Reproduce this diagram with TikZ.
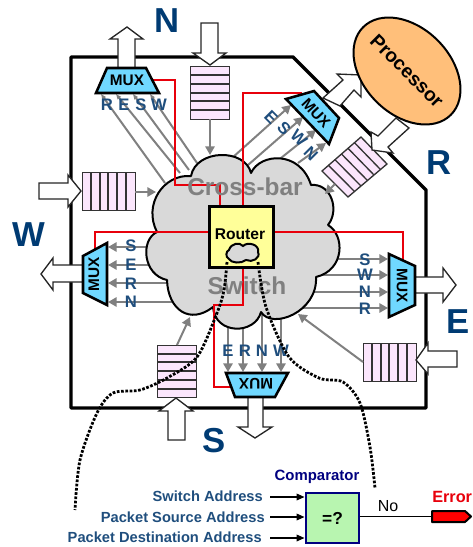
\documentclass[tikz,border=0pt]{standalone}
\usepackage{fontspec}
\setmainfont{Liberation Sans}
\usetikzlibrary{arrows.meta,shapes.geometric,calc}
\definecolor{dblue}{HTML}{003B73}
\definecolor{lblue}{HTML}{1F4E7D}
\definecolor{muxfill}{HTML}{70D8FF}
\definecolor{fifofill}{HTML}{FBE6FC}
\definecolor{gline}{HTML}{808080}
\definecolor{cloudfill}{HTML}{D9D9D9}
\definecolor{procfill}{HTML}{FFBF7A}
\definecolor{routerfill}{HTML}{FFFF99}
\definecolor{compfill}{HTML}{B8F5B0}
\definecolor{navyb}{HTML}{000080}
\definecolor{redl}{HTML}{E8000B}
\tikzset{
  wall/.style={line width=2.6pt,line join=round},
  muxbox/.style={fill=muxfill,draw=black,line width=1.9pt,line join=miter},
  muxtext/.style={font=\bfseries\fontsize{11.5}{12}\selectfont,inner sep=0pt},
  fifobox/.style={fill=fifofill,draw=black!80,line width=1pt},
  bigarrow/.style={fill=white,draw=black!85,line width=1pt,line join=miter},
  redline/.style={draw=redl,line width=1.6pt,line join=miter},
  grayarrow/.style={draw=gline,line width=1.5pt,-{Triangle[length=6.5pt,width=7pt]}},
  graytaper/.style={draw=gline,line width=1.5pt,-{Triangle[length=4pt,width=3pt]}},
  dirlabel/.style={font=\bfseries\fontsize{26}{28}\selectfont,text=dblue,inner sep=0pt},
  portlabel/.style={font=\bfseries\fontsize{12.5}{14}\selectfont,text=lblue,inner sep=0pt},
  faint/.style={font=\bfseries\fontsize{18.3}{20}\selectfont,text=gline,inner sep=0pt},
  addr/.style={font=\bfseries\fontsize{11}{12}\selectfont,text=lblue,inner sep=0pt,anchor=east},
  inarrow/.style={line width=1.1pt,-{Triangle[length=6pt,width=5pt]}},
  dotline/.style={line width=2.1pt,dash pattern=on 2pt off 1.2pt},
}
\newcommand{\garr}[3]{%
  \coordinate (#1-a) at (#2);\coordinate (#1-b) at (#3);
  \draw[grayarrow] (#1-a) -- (#1-b);}
\newcommand{\gtap}[3]{%
  \coordinate (#1-a) at (#2);\coordinate (#1-b) at (#3);
  \draw[graytaper] (#1-a) -- (#1-b);}
\begin{document}
\begin{tikzpicture}[x=.75pt,y=-.75pt]
\useasboundingbox (0,0) rectangle (472,547);
% wall
\draw[wall] (71,57) -- (293,57) -- (426,190) -- (426,408) -- (71,408) -- cycle;

% gray arrows beneath the cloud
\gtap{n1}{165,183}{101,94}
\gtap{n2}{180,173}{116,94}
\gtap{n3}{189,170}{133,94}
\gtap{n4}{197,163}{150,94}
\garr{r1}{232,158}{291,105}
\garr{r2}{248,165}{303,117}
\garr{r3}{281,158}{316,130}
\garr{r4}{298,163}{326,143}
\garr{w1}{160,247}{108,247}
\garr{w2}{160,265}{108,265}
\garr{w3}{175,283}{108,283}
\garr{w4}{180,302}{108,302}
\garr{e1}{325,259}{388,259}
\garr{e2}{320,275}{388,275}
\garr{e3}{310,292}{388,292}
\garr{e4}{300,308}{388,308}
\garr{s1}{228,320}{228,372}
\garr{s2}{243,320}{243,372}
\garr{s3}{262,310}{262,372}
\garr{s4}{281,310}{281,372}

% big cloud
\draw[fill=cloudfill,draw=black,line width=1.5pt,line join=round]
  (157,232) .. controls (143,205) and (163,174) .. (191,176)
  .. controls (196,149) and (245,148) .. (251,173)
  .. controls (260,153) and (300,150) .. (311,185)
  .. controls (331,183) and (340,210) .. (328,225)
  .. controls (345,235) and (345,270) .. (316,277)
  .. controls (318,312) and (272,330) .. (261,312)
  .. controls (255,335) and (215,335) .. (213,307)
  .. controls (190,325) and (168,310) .. (167,280)
  .. controls (143,275) and (140,240) .. (157,232) -- cycle;

% FIFOs and their arrows
\node[fifobox,minimum width=29.25pt,minimum height=39.75pt,inner sep=0,anchor=north west] (fifoN) at (190,66) {};
\foreach \y in {75,84,93,101,110} \draw[black!80,line width=1pt] (190,\y) -- (229,\y);
\node[fifobox,minimum width=39.75pt,minimum height=28.5pt,inner sep=0,anchor=north west] (fifoW) at (82,172) {};
\foreach \x in {91,100,108,117,126} \draw[black!80,line width=1pt] (\x,172) -- (\x,210);
\node[fifobox,minimum width=29.25pt,minimum height=39pt,inner sep=0,anchor=north west] (fifoS) at (157,345) {};
\foreach \y in {354,362,371,380,389} \draw[black!80,line width=1pt] (157,\y) -- (196,\y);
\node[fifobox,minimum width=39.75pt,minimum height=28.5pt,inner sep=0,anchor=north west] (fifoE) at (363,343) {};
\foreach \x in {372,381,389,398,407} \draw[black!80,line width=1pt] (\x,343) -- (\x,381);
\draw[fifobox] (361,137) coordinate (fr1) -- (387,164) coordinate (fr2) -- (348,197) coordinate (fr3) -- (322,171) coordinate (fr4) -- cycle;
\foreach \t in {.167,.333,.5,.667,.833}
  \draw[black!80,line width=1pt] ($(fr1)!\t!(fr4)$) -- ($(fr2)!\t!(fr3)$);
\garr{fn}{210,119}{210,155}
\garr{fw}{135,192}{156,192}
\garr{fs}{177,345}{190,317}
\garr{fe}{363,362}{298,314}
\garr{fr}{335,184}{325,194}

% red wires
\draw[redline] (153,80) -- (175,80) -- (175,185) -- (220,185) -- (220,205);
\draw[redline] (243,205) -- (243,93) -- (302,93);
\draw[redline] (208,232) -- (95,232) -- (95,252);
\draw[redline] (272,232) -- (403,232) -- (403,262);
\draw[redline] (243,266) -- (243,305) -- (214,305) -- (214,387) -- (232,387);

% big white arrows
\draw[bigarrow] (118,68) -- (118,39) -- (110,39) -- (127,27) -- (143,39) -- (135,39) -- (135,68) -- cycle;
\draw[bigarrow] (201,23) -- (201,53) -- (193,53) -- (210,65) -- (226,53) -- (218,53) -- (218,23) -- cycle;
\draw[bigarrow] (39,183) -- (68,183) -- (68,175) -- (81,191) -- (68,207) -- (68,199) -- (39,199) -- cycle;
\draw[bigarrow] (83,265) -- (53,265) -- (53,258) -- (41,274) -- (53,290) -- (53,282) -- (83,282) -- cycle;
\draw[bigarrow] (168,440) -- (168,411) -- (159,411) -- (176,398) -- (193,411) -- (185,411) -- (185,440) -- cycle;
\draw[bigarrow] (248,397) -- (248,427) -- (238,427) -- (255,438) -- (272,427) -- (263,427) -- (263,397) -- cycle;
\draw[bigarrow] (415,277) -- (443,277) -- (443,268) -- (456,285) -- (443,302) -- (443,293) -- (415,293) -- cycle;
\draw[bigarrow] (457,351) -- (428,351) -- (428,343) -- (416,360) -- (428,374) -- (428,367) -- (457,367) -- cycle;
\draw[bigarrow] (323,98) -- (343,80) -- (337,74) -- (361,75) -- (361,97) -- (354,90) -- (340,106) -- cycle;
\draw[bigarrow] (396,118) -- (378,136) -- (371,132) -- (372,150) -- (393,153) -- (388,147) -- (409,128) -- cycle;

% processor
\node[ellipse,fill=procfill,draw=black,line width=1.5pt,minimum width=93pt,minimum height=65pt,inner sep=0pt,rotate=-45] (proc) at (407,71) {};
\node[font=\bfseries\fontsize{14.5}{16}\selectfont,inner sep=0pt,rotate=-45] (proctxt) at (proc.center) {Processor};

% muxes
\draw[muxbox] (107,68) -- (146,68) -- (159,93) -- (96,93) -- cycle;
\node[muxtext] (muxN) at (127,80) {MUX};
\draw[muxbox] (286,99) -- (314,91) -- (339,118) -- (329,144) -- cycle;
\node[muxtext,rotate=-47] (muxR) at (316,113) {MUX};
\draw[muxbox] (107,243) -- (107,305) -- (83,293) -- (83,256) -- cycle;
\node[muxtext,rotate=90] (muxW) at (94,274) {MUX};
\draw[muxbox] (389,254) -- (415,266) -- (415,305) -- (389,317) -- cycle;
\node[muxtext,rotate=-90] (muxE) at (402,286) {MUX};
\draw[muxbox] (226,373) -- (288,373) -- (275,397) -- (235,397) -- cycle;
\node[muxtext,rotate=180] (muxS) at (256,384) {MUX};

% router
\node[draw=black,fill=routerfill,line width=2.2pt,minimum width=48pt,minimum height=45.75pt,inner sep=0pt,anchor=north west] (router) at (208,205) {};
\node[font=\bfseries\fontsize{11.7}{13}\selectfont,inner sep=0pt] (routertxt) at (240,234) {Router};

% small cloud
\draw[fill=cloudfill,draw=black,line width=1.5pt]
  (229,250) .. controls (231,243) and (240,242) .. (243,246)
  .. controls (248,241) and (260,245) .. (258,252)
  .. controls (261,258) and (252,263) .. (246,260)
  .. controls (241,264) and (231,263) .. (229,259)
  .. controls (225,257) and (226,251) .. (229,250) -- cycle;

% faint text
\node[faint] (crossbar) at (245,187) {Cross-bar};
\node[faint] (switchtxt) at (247,286) {Switch};

% direction labels
\node[dirlabel] (lN) at (167,21) {N};
\node[dirlabel] (lR) at (439,163) {R};
\node[dirlabel] (lW) at (29,235) {W};
\node[dirlabel] (lE) at (458,322) {E};
\node[dirlabel] (lS) at (214,441) {S};

% port labels
\foreach \t/\x in {R/107,E/124,S/141,W/159} \node[portlabel] at (\x,105) {\t};
\foreach \t/\x/\y in {E/271/117,S/284/128,W/299/138,N/311/154} \node[portlabel,rotate=-45] at (\x,\y) {\t};
\foreach \t/\y in {S/246,E/265,R/284,N/302} \node[portlabel] at (131,\y) {\t};
\foreach \t/\y in {S/260,W/275,N/292,R/309} \node[portlabel] at (365,\y) {\t};
\foreach \t/\x in {E/228,R/245,N/262,W/281} \node[portlabel] at (\x,351) {\t};

% dotted leaders
\coordinate (dl0) at (227,262);
\coordinate (dl1) at (75,510);
\coordinate (dr0) at (258,262);
\coordinate (dr1) at (375,488);
\draw[dotline] plot[smooth] coordinates {(dl0) (224,290) (217,313) (197,357) (167,378) (140,390) (113,393) (97,413) (80,460) (dl1)};
\draw[dotline] plot[smooth] coordinates {(dr0) (266,307) (289,357) (319,378) (343,382) (360,403) (370,447) (dr1)};

% comparator
\node[draw=navyb,fill=compfill,line width=2.2pt,minimum width=39.75pt,minimum height=37.5pt,inner sep=0pt,font=\bfseries\fontsize{13}{14}\selectfont] (cmp) at (332.5,518) {=?};
\node[font=\bfseries\fontsize{11.2}{12}\selectfont,text=navyb,inner sep=0pt] (cmplabel) at (317,477) {Comparator};
\node[addr] (a1) at (263,496) {Switch Address};
\node[addr] (a2) at (265,517) {Packet Source Address};
\node[addr] (a3) at (262,537) {Packet Destination Address};
\coordinate (a1e) at (270,497);\coordinate (a2e) at (270,517);\coordinate (a3e) at (270,538);
\draw[inarrow] (a1e) -- (a1e -| cmp.west);
\draw[inarrow] (a2e) -- (a2e -| cmp.west);
\draw[inarrow] (a3e) -- (a3e -| cmp.west);
\draw[fill=red,draw=black,line width=1.5pt,line join=round] (432,511) coordinate (errtail) -- (465,511) -- (471,516.5) -- (465,522) -- (432,522) -- cycle;
\draw[line width=1.1pt] (cmp.east |- 0,516.5) -- (errtail |- 0,516.5);
\node[font=\fontsize{12}{13}\selectfont,inner sep=0pt] (no) at (388,506) {No};
\node[font=\bfseries\fontsize{12.2}{14}\selectfont,text=redl,inner sep=0pt,anchor=west] (err) at (432,497) {Error};
\end{tikzpicture}
\end{document}
